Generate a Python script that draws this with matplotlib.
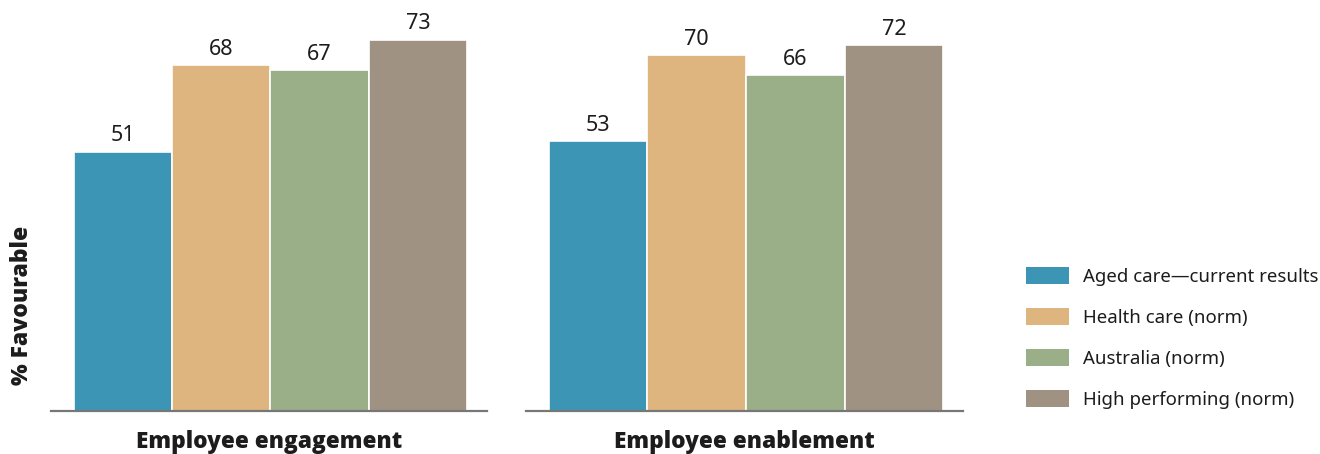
import matplotlib.pyplot as plt
from matplotlib.patches import Patch

# ------------------ DATA ------------------ #
groups = ["Employee engagement", "Employee enablement"]
series = ["Aged care\u2014current results", "Health care (norm)",
          "Australia (norm)", "High performing (norm)"]
engagement = [51, 68, 67, 73]
enablement = [53, 70, 66, 72]

COLORS = ["#3C95B4", "#DEB57F", "#9AAE88", "#A09282"]
TEXT = "#1c1c1c"
BOLD_FONT = ["Open Sans", "Lato", "DejaVu Sans"]

plt.rcParams.update({
    "font.family": ["Noto Sans", "DejaVu Sans"],
})

fig = plt.figure(figsize=(13.2, 4.54), dpi=100)

panels = [
    (fig.add_axes([51 / 1320, 43.3 / 454, 436 / 1320, 406.4 / 454]), engagement, groups[0]),
    (fig.add_axes([526 / 1320, 43.3 / 454, 437 / 1320, 406.4 / 454]), enablement, groups[1]),
]

xs = list(range(len(series)))
for ax, values, title in panels:
    bars = ax.bar(xs, values, width=1.0, color=COLORS,
                  edgecolor="white", linewidth=1.2, zorder=2)
    for b, v in zip(bars, values):
        ax.annotate(str(v), (b.get_x() + b.get_width() / 2, v),
                    xytext=(0, 7.5), textcoords="offset points",
                    ha="center", va="baseline", fontsize=15.5, color=TEXT)
    ax.set_xlim(-0.73, 3.7)
    ax.set_ylim(0, 80)
    for s in ["top", "right", "left"]:
        ax.spines[s].set_visible(False)
    ax.spines["bottom"].set_color("#777777")
    ax.spines["bottom"].set_linewidth(1.6)
    ax.spines["bottom"].set_zorder(3)
    ax.set_xticks([])
    ax.set_yticks([])
    ax.set_xlabel(title, fontsize=16.3, fontweight="heavy", family=BOLD_FONT,
                  color=TEXT, labelpad=14)

fig.text(22 / 1320, (454 - 305) / 454, "% Favourable", rotation=90,
         ha="center", va="center", fontsize=16.5, fontweight="heavy",
         family=BOLD_FONT, color=TEXT)

handles = [Patch(facecolor=c, edgecolor="none") for c in COLORS]
fig.legend(handles, series, loc="center left",
           bbox_to_anchor=(1026 / 1320, (454 - 338) / 454),
           frameon=False, fontsize=13.4, borderpad=0, borderaxespad=0,
           handlelength=2.3, handleheight=1.0, handletextpad=0.75,
           labelspacing=1.2, labelcolor=TEXT)

fig.savefig("out.png", dpi=100)
